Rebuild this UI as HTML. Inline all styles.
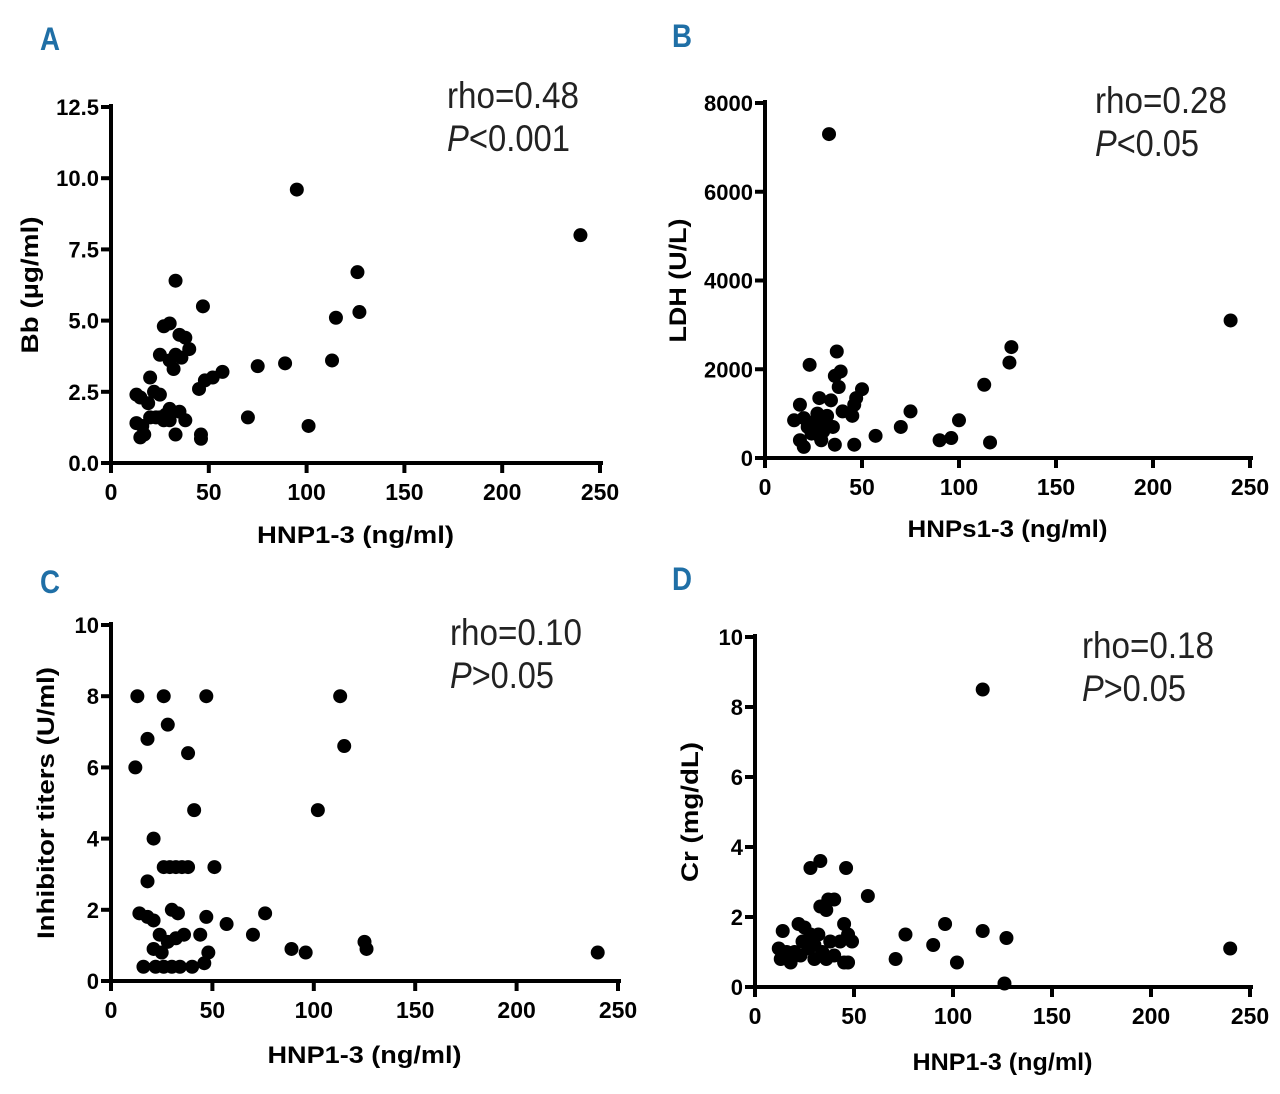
<!DOCTYPE html>
<html><head><meta charset="utf-8"><style>
body{margin:0;background:#fff;width:1280px;height:1089px;overflow:hidden}
svg{font-family:"Liberation Sans",sans-serif}
</style></head><body>
<svg id="s" width="1280" height="1089"></svg>
<script>
const xTicks=[0,50,100,150,200,250];
const aX=[240,95,126,127,115,113,89,75,70,101,57,52,47,48,45,46,46,33,27,30,35,38,40,33,30,25,36,32,20,22,25,13,15,19,23,28,30,35,38,13,16,17,15,33,27,30,20,25];
const aY=[8.0,9.6,6.7,5.3,5.1,3.6,3.5,3.4,1.6,1.3,3.2,3.0,5.5,2.9,2.6,1.0,0.85,6.4,4.8,4.9,4.5,4.4,4.0,3.8,3.6,3.8,3.7,3.3,3.0,2.5,2.4,2.4,2.3,2.1,1.6,1.7,1.9,1.8,1.5,1.4,1.3,1.0,0.9,1.0,1.5,1.5,1.6,1.6];
const bX=[33,240,127,126,113,116,100,96,90,75,70,57,50,47,46,45,40,37,38,36,39,34,28,35,46,36,23,18,15,20,18,20,25,26,28,24,30,22,27,31,29,32];
const bY=[7300,3100,2500,2150,1650,350,850,450,400,1050,700,500,1550,1350,1200,950,1050,2400,1600,1850,1950,1300,1350,700,300,300,2100,1200,850,900,400,250,800,650,500,550,600,700,1000,800,400,950];
const cX=[13,26,47,113,28,18,115,38,12,102,41,21,18,26,29,32,35,38,51,14,30,33,18,47,21,57,76,70,89,96,125,126,240,24,28,32,36,44,21,25,48,16,22,26,30,34,40,46];
const cY=[8,8,8,8,7.2,6.8,6.6,6.4,6,4.8,4.8,4,2.8,3.2,3.2,3.2,3.2,3.2,3.2,1.9,2,1.9,1.8,1.8,1.7,1.6,1.9,1.3,0.9,0.8,1.1,0.9,0.8,1.3,1.1,1.2,1.3,1.3,0.9,0.8,0.8,0.4,0.4,0.4,0.4,0.4,0.4,0.5];
const dX=[115,240,127,126,115,102,96,90,76,71,57,46,33,28,37,33,40,36,45,43,47,49,45,47,40,36,14,12,13,18,22,25,24,28,30,20,23,30,16,27,32,34,38];
const dY=[8.5,1.1,1.4,0.1,1.6,0.7,1.8,1.2,1.5,0.8,2.6,3.4,3.6,3.4,2.5,2.3,2.5,2.2,1.8,1.3,1.5,1.3,0.7,0.7,0.9,0.8,1.6,1.1,0.8,0.7,1.8,1.7,1.3,1.5,1.2,1.0,0.9,0.8,1.0,1.1,1.5,1.0,1.3];
const panels=[
 {id:'a',letter:'A',lx:40,ly:50,x0:111,x1:600,y0:463,y1:107,ymax:12.5,yt:[0,2.5,5,7.5,10,12.5],yl:['0.0','2.5','5.0','7.5','10.0','12.5'],xs:aX,ys:aY,yt2:'Bb (µg/ml)',yw:137,ytx:38,xt:'HNP1-3 (ng/ml)',xw:197,xty:543,rho:'rho=0.48',p:'<0.001',pw:123,rx:447,ry:108},
 {id:'b',letter:'B',lx:672,ly:47,x0:765,x1:1250,y0:458,y1:103,ymax:8000,yt:[0,2000,4000,6000,8000],yl:['0','2000','4000','6000','8000'],xs:bX,ys:bY,yt2:'LDH (U/L)',yw:124,ytx:686,xt:'HNPs1-3 (ng/ml)',xw:200,xty:537,rho:'rho=0.28',p:'<0.05',pw:104,rx:1095,ry:113},
 {id:'c',letter:'C',lx:40,ly:593,x0:111,x1:618,y0:981,y1:625,ymax:10,yt:[0,2,4,6,8,10],yl:['0','2','4','6','8','10'],xs:cX,ys:cY,yt2:'Inhibitor titers (U/ml)',yw:272,ytx:54,xt:'HNP1-3 (ng/ml)',xw:194,xty:1063,rho:'rho=0.10',p:'>0.05',pw:104,rx:450,ry:645},
 {id:'d',letter:'D',lx:672,ly:590,x0:755,x1:1250,y0:987,y1:637,ymax:10,yt:[0,2,4,6,8,10],yl:['0','2','4','6','8','10'],xs:dX,ys:dY,yt2:'Cr (mg/dL)',yw:140,ytx:698,xt:'HNP1-3 (ng/ml)',xw:180,xty:1070,rho:'rho=0.18',p:'>0.05',pw:104,rx:1082,ry:658}];
const s=document.getElementById('s');const NS='http://www.w3.org/2000/svg';
function mk(t,a,txt){const e=document.createElementNS(NS,t);for(const k in a)e.setAttribute(k,a[k]);if(txt!==undefined)e.textContent=txt;s.appendChild(e);return e;}
panels.forEach(P=>{
 const sx=v=>P.x0+v/250*(P.x1-P.x0), sy=v=>P.y0-v/P.ymax*(P.y0-P.y1);
 let e=mk('text',{x:P.lx,y:P.ly,'font-size':32,'font-weight':'bold',fill:'#1f6fa6',textLength:20,lengthAdjust:'spacingAndGlyphs'},P.letter);
 
 e=mk('line',{x1:P.x0,y1:P.y1-3,x2:P.x0,y2:P.y0+2,stroke:'#000','stroke-width':4});
 
 e=mk('line',{x1:P.x0-2,y1:P.y0,x2:P.x1+3,y2:P.y0,stroke:'#000','stroke-width':4});
 
 xTicks.forEach(t=>{mk('line',{x1:sx(t),y1:P.y0,x2:sx(t),y2:P.y0+10,stroke:'#000','stroke-width':4});
  e=mk('text',{x:sx(t),y:P.y0+37,'font-size':23,'font-weight':'bold','text-anchor':'middle'},t);
  });
 P.yt.forEach((t,i)=>{mk('line',{x1:P.x0-10,y1:sy(t),x2:P.x0,y2:sy(t),stroke:'#000','stroke-width':4});
  e=mk('text',{x:P.x0-12,y:sy(t)+8,'font-size':22,'font-weight':'bold','text-anchor':'end'},P.yl[i]);
  });
 const cy=(P.y0+P.y1)/2;
 e=mk('text',{x:0,y:0,'font-size':24,'font-weight':'bold','text-anchor':'middle',textLength:P.yw,lengthAdjust:'spacingAndGlyphs',transform:`translate(${P.ytx},${cy}) rotate(-90)`},P.yt2);
 
 e=mk('text',{x:(P.x0+P.x1)/2,y:P.xty,'font-size':24,'font-weight':'bold','text-anchor':'middle',textLength:P.xw,lengthAdjust:'spacingAndGlyphs'},P.xt);
 
 e=mk('text',{x:P.rx,y:P.ry,'font-size':37,fill:'#222',textLength:132,lengthAdjust:'spacingAndGlyphs'},P.rho);
 
 e=mk('text',{x:P.rx,y:P.ry+43,'font-size':37,fill:'#222',textLength:P.pw,lengthAdjust:'spacingAndGlyphs'});
 
 const ts=document.createElementNS(NS,'tspan');ts.setAttribute('font-style','italic');ts.textContent='P';e.appendChild(ts);
 e.appendChild(document.createTextNode(P.p));
 P.xs.forEach((v,i)=>{e=mk('circle',{cx:sx(v),cy:sy(P.ys[i]),r:7,fill:'#000'});
  });
});
</script>
</body></html>
